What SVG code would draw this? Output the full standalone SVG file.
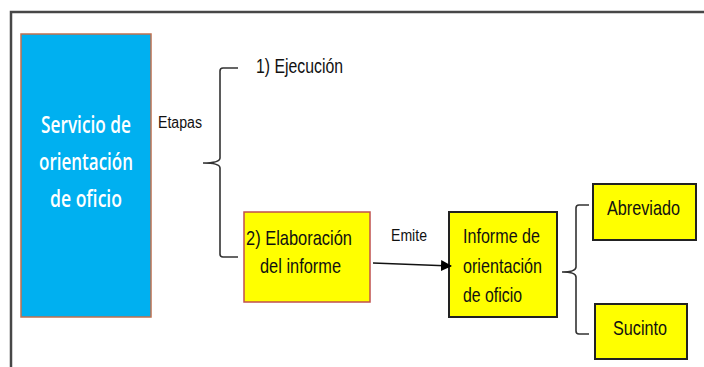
<svg xmlns="http://www.w3.org/2000/svg" width="704" height="367" viewBox="0 0 704 367">
<defs>
<style>
.frame{fill:none;stroke:#474747;stroke-width:2.5}
.blue{fill:#00B0F0;stroke:#C0704F;stroke-width:1.5}
.ybr{fill:#FFFF00;stroke:#C0504D;stroke-width:1.5}
.ybk{fill:#FFFF00;stroke:#222;stroke-width:2}
.wt{font-family:"Open Sans","Liberation Sans",sans-serif;font-weight:600;font-size:23px;fill:#fff}
.bt{font-family:"Liberation Sans",Arial,sans-serif;font-size:21px;fill:#111}
.lbl{font-family:"Liberation Sans",Arial,sans-serif;font-size:16px;fill:#111}
.brace{fill:none;stroke:#333;stroke-width:1.6}
.conn{stroke:#111;stroke-width:1.6;fill:none}
</style>
<marker id="ah" markerWidth="11" markerHeight="11" refX="10" refY="5.5" orient="auto" markerUnits="userSpaceOnUse">
<path d="M0,0 L11,5.5 L0,11 Z" fill="#000"/>
</marker>
</defs>
<rect width="704" height="367" fill="#fff"/>
<path class="frame" d="M11,367 V12 H704"/>

<g id="servicio">
<rect class="blue" x="21" y="34" width="130" height="283"/>
<text class="wt" x="86" y="133" text-anchor="middle" textLength="90" lengthAdjust="spacingAndGlyphs">Servicio de</text>
<text class="wt" x="86" y="170" text-anchor="middle" textLength="94" lengthAdjust="spacingAndGlyphs">orientación</text>
<text class="wt" x="86" y="207" text-anchor="middle" textLength="72" lengthAdjust="spacingAndGlyphs">de oficio</text>
</g>

<g id="etapas">
<text class="lbl" x="158" y="128" textLength="44" lengthAdjust="spacingAndGlyphs">Etapas</text>
</g>

<g id="ejecucion">
<text class="bt" x="256" y="73" textLength="87" lengthAdjust="spacingAndGlyphs">1) Ejecución</text>
</g>

<g id="elaboracion">
<rect class="ybr" x="244" y="212" width="126" height="90"/>
<text class="bt" x="246" y="245" textLength="106" lengthAdjust="spacingAndGlyphs">2) Elaboración</text>
<text class="bt" x="260" y="273" textLength="81" lengthAdjust="spacingAndGlyphs">del informe</text>
</g>

<g id="informe">
<rect class="ybk" x="449" y="212" width="108" height="105"/>
<text class="bt" x="463" y="243" textLength="77" lengthAdjust="spacingAndGlyphs">Informe de</text>
<text class="bt" x="463" y="273" textLength="79" lengthAdjust="spacingAndGlyphs">orientación</text>
<text class="bt" x="463" y="302" textLength="59" lengthAdjust="spacingAndGlyphs">de oficio</text>
</g>

<g id="abreviado">
<rect class="ybk" x="593" y="184" width="103" height="56"/>
<text class="bt" x="607" y="215" textLength="73" lengthAdjust="spacingAndGlyphs">Abreviado</text>
</g>

<g id="sucinto">
<rect class="ybk" x="595" y="304" width="92" height="55"/>
<text class="bt" x="613" y="335" textLength="54" lengthAdjust="spacingAndGlyphs">Sucinto</text>
</g>

<g id="connectors">
<path class="brace" d="M238,68 H223 Q220,68 220,71 V158 Q220,163 203,163 Q220,163 220,168 V254 Q220,257 223,257 H238"/>
<path class="brace" d="M589,205 H579 Q576,205 576,208 V267 Q576,272 562,272 Q576,272 576,277 V331 Q576,334 579,334 H589"/>
<line class="conn" x1="373" y1="263" x2="451" y2="266" marker-end="url(#ah)"/>
<text class="lbl" x="391" y="241" textLength="36" lengthAdjust="spacingAndGlyphs">Emite</text>
</g>
</svg>
